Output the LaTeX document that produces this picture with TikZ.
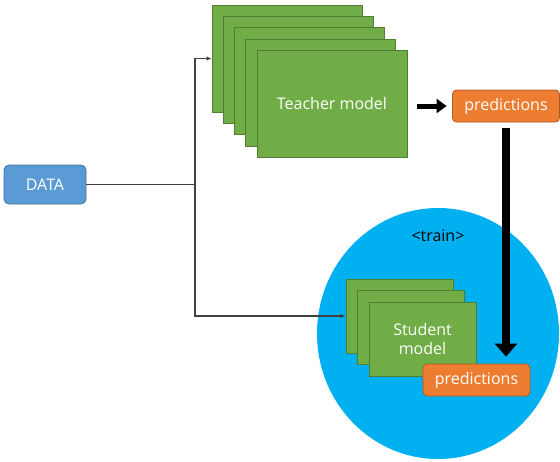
\documentclass[tikz,border=0pt]{standalone}
\usepackage{fontspec}
\setmainfont{Open Sans}
\usetikzlibrary{arrows.meta,shapes.geometric}

\definecolor{modelgreen}{HTML}{70AD47}
\definecolor{modeledge}{HTML}{507E32}
\definecolor{predorange}{HTML}{ED7D31}
\definecolor{prededge}{HTML}{AE5A21}
\definecolor{datablue}{HTML}{5B9BD5}
\definecolor{dataedge}{HTML}{41719C}
\definecolor{trainblue}{HTML}{00B0F0}
\definecolor{wire}{HTML}{404040}

\begin{document}
\begin{tikzpicture}[x=1pt,y=-1pt,font=\fontsize{16}{18.5}\selectfont,
  teacher/.style={draw=modeledge,fill=modelgreen,line width=0.8pt,inner sep=0pt,
    minimum width=150pt,minimum height=107pt,text=white},
  student/.style={draw=modeledge,fill=modelgreen,line width=0.8pt,inner sep=0pt,
    minimum width=107pt,minimum height=74pt,text=white,align=center},
  predbox/.style={draw=prededge,fill=predorange,line width=0.8pt,rounded corners=4pt,
    minimum width=107pt,minimum height=32pt,inner sep=0pt,text=white},
  databox/.style={draw=dataedge,fill=datablue,line width=0.8pt,rounded corners=5pt,
    minimum width=82pt,minimum height=39pt,inner sep=0pt,text=white},
  wirearrow/.style={draw=wire,line width=1.1pt,-{Latex[length=5pt,width=4.5pt]}},
  fatarrow/.style={line width=5pt,-{Triangle[length=10pt,width=14pt]}}]
\useasboundingbox (0,0) rectangle (560,461);

% train area
\node[ellipse,fill=trainblue,minimum width=242pt,minimum height=251pt,inner sep=0pt] (trainarea) at (438,333.5) {};
\node (trainlabel) at (438,236) {<train>};

% teacher stack
\foreach \i in {1,...,4}
  \node[teacher] (t\i) at ({287+11.25*(\i-1)},{58.5+11.3*(\i-1)}) {};
\node[teacher] (t5) at (332,103.7) {Teacher model};

% student stack
\foreach \i in {1,2}
  \node[student] (s\i) at ({399.5+11.5*(\i-1)},{316+11.5*(\i-1)}) {};
\node[student] (s3) at (422.5,339) {Student\\model};

\node[predbox] (predT) at (506,106) {predictions};
\node[predbox] (predB) at (476.5,380) {predictions};

\node[databox] (data) at (45,184.5) {DATA};

% wires
\coordinate (split) at (195,184.5);
\draw[draw=wire,line width=1.1pt] (data.east) -- (split);
\draw[wirearrow] (split) |- (t1.west);
\draw[wirearrow] (split) |- (s1.west);

\draw[fatarrow,shorten <=10pt,shorten >=5.5pt] (t5.east |- predT.west) -- (predT.west);
\draw[line width=8pt,-{Triangle[length=13pt,width=22pt]},shorten <=6pt,shorten >=7pt]
  (predT.south) -- (predT.south |- predB.north);

\end{tikzpicture}
\end{document}
